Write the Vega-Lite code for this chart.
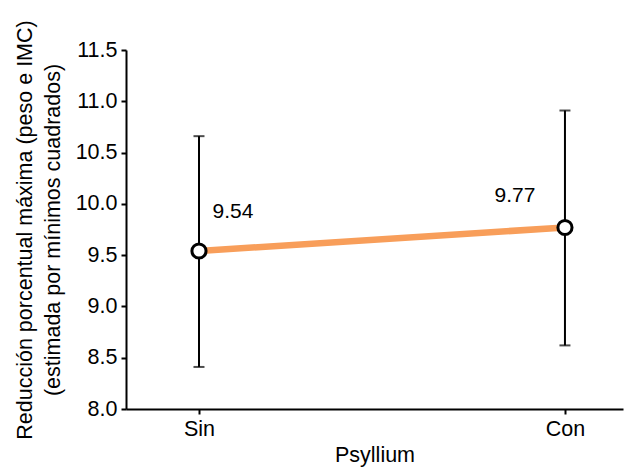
{
  "$schema": "https://vega.github.io/schema/vega-lite/v6.json",
  "width": 497,
  "height": 359,
  "autosize": {"type": "none"},
  "padding": {"left": 126, "top": 50, "right": 2, "bottom": 59},
  "background": "white",
  "config": {
    "view": {"stroke": null},
    "font": "Liberation Sans",
    "axis": {
      "domainColor": "black", "domainWidth": 2, "tickColor": "black", "tickWidth": 2, "tickSize": 5,
      "labelFontSize": 21.5, "labelColor": "black", "titleFontSize": 21.5, "titleColor": "black",
      "titleFontWeight": "normal", "grid": false, "labelFont": "Liberation Sans", "titleFont": "Liberation Sans"
    }
  },
  "data": {"values": [
    {"psyllium": "Sin", "mean": 9.54, "low": 8.41, "high": 10.66, "label": "9.54"},
    {"psyllium": "Con", "mean": 9.77, "low": 8.62, "high": 10.91, "label": "9.77"}
  ]},
  "encoding": {
    "x": {"field": "psyllium", "type": "nominal", "sort": ["Sin", "Con"],
      "scale": {"type": "point", "padding": 0.179, "align": 0.557},
      "axis": {"title": "Psyllium", "labelAngle": 0, "labelPadding": 4, "titlePadding": 5}},
    "y": {"field": "mean", "type": "quantitative",
      "scale": {"domain": [8, 11.5], "nice": false, "zero": false},
      "axis": {"title": ["Reducción porcentual máxima (peso e IMC)", "(estimada por mínimos cuadrados)"],
        "values": [8, 8.5, 9, 9.5, 10, 10.5, 11, 11.5], "format": ".1f", "labelPadding": 4, "titlePadding": 11, "titleLineHeight": 28}}
  },
  "layer": [
    {"mark": {"type": "rule", "color": "black", "strokeWidth": 2},
     "encoding": {"y": {"field": "low", "type": "quantitative"}, "y2": {"field": "high"}}},
    {"mark": {"type": "tick", "color": "black", "thickness": 2, "size": 11, "orient": "horizontal"},
     "encoding": {"y": {"field": "low", "type": "quantitative"}}},
    {"mark": {"type": "tick", "color": "black", "thickness": 2, "size": 11, "orient": "horizontal"},
     "encoding": {"y": {"field": "high", "type": "quantitative"}}},
    {"mark": {"type": "line", "color": "#F89E5A", "strokeWidth": 6.5}},
    {"mark": {"type": "point", "filled": true, "fill": "white", "stroke": "black", "strokeWidth": 3, "size": 200, "opacity": 1}},
    {"transform": [{"filter": "datum.psyllium == 'Sin'"}],
     "mark": {"type": "text", "fontSize": 21, "color": "black", "dx": 34, "dy": -39},
     "encoding": {"text": {"field": "label"}}},
    {"transform": [{"filter": "datum.psyllium == 'Con'"}],
     "mark": {"type": "text", "fontSize": 21, "color": "black", "dx": -50, "dy": -31},
     "encoding": {"text": {"field": "label"}}}
  ]
}
